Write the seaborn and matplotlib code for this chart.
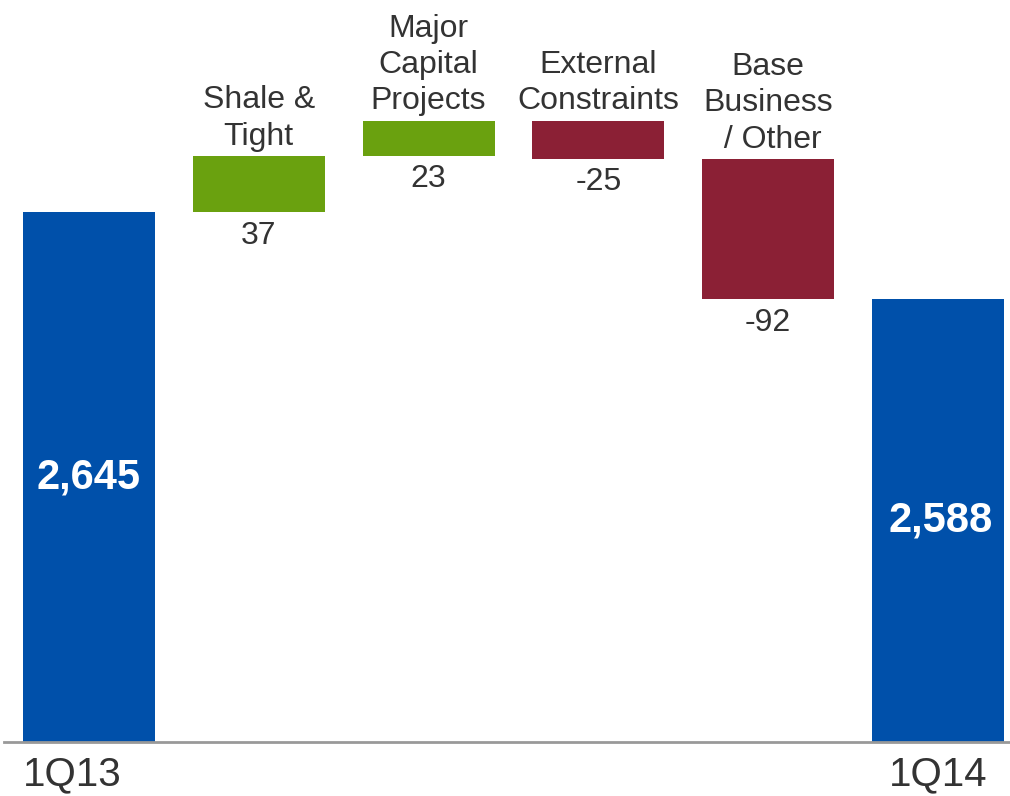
import matplotlib
matplotlib.use("Agg")
import matplotlib.pyplot as plt
import seaborn as sns
import pandas as pd
import numpy as np

# ---- data ----
steps = ["1Q13", "Shale & Tight", "Major Capital Projects", "External Constraints",
         "Base Business / Other", "1Q14"]
step_labels = ["1Q13", "Shale &\nTight", "Major\nCapital\nProjects", "External\nConstraints",
               "Base\nBusiness\n / Other", "1Q14"]
values = [2645, 37, 23, -25, -92, 2588]
is_total = [True, False, False, False, False, True]
value_labels = ["2,645", "37", "23", "-25", "-92", "2,588"]

# ---- waterfall geometry from data ----
bottoms, heights = [], []
running = 0
for v, tot in zip(values, is_total):
    if tot:
        bottoms.append(0)
        heights.append(v)
        running = v
    else:
        lo = min(running, running + v)
        bottoms.append(lo)
        heights.append(abs(v))
        running += v
tops = [b + h for b, h in zip(bottoms, heights)]

BLUE = "#0050AA"
GREEN = "#6AA10F"
RED = "#8B2035"
TEXT = "#333333"
colors = [BLUE if t else (GREEN if v > 0 else RED) for v, t in zip(values, is_total)]

sns.set_theme(style="white")
plt.rcParams["font.family"] = ["Liberation Sans", "DejaVu Sans"]

fig = plt.figure(figsize=(10.1, 7.96), dpi=100)
ax = fig.add_axes([4 / 1010, 54 / 796, 1006 / 1010, 742 / 796])

df = pd.DataFrame({"step": steps, "height": heights})
sns.barplot(data=df, x="step", y="height", order=steps, bottom=bottoms,
            width=0.777, errorbar=None, color=BLUE, saturation=1, ax=ax)
for p, c in zip(ax.patches, colors):
    p.set_facecolor(c)
    p.set_edgecolor("none")

ax.set_xlim(-0.5, 5.424)
ax.set_ylim(2298, 2784)
ax.set_xlabel("")
ax.set_ylabel("")
ax.set_xticks([])
ax.set_yticks([])
for s in ["top", "left", "right"]:
    ax.spines[s].set_visible(False)
ax.spines["bottom"].set_color("#999999")
ax.spines["bottom"].set_linewidth(2)

w = 0.777
for i, (lab, vl, tot) in enumerate(zip(step_labels, value_labels, is_total)):
    if tot:
        mid = (max(bottoms[i], 2298) + tops[i]) / 2
        ax.annotate(vl, xy=(i, mid), xytext=(2 if i == 5 else 0, 0),
                    textcoords="offset points", ha="center", va="center",
                    color="white", fontsize=30, fontweight="bold")
        if i == 0:
            ax.annotate(lab, xy=(i - w / 2, 0), xycoords=("data", "axes fraction"),
                        xytext=(0, -31.5), textcoords="offset points",
                        ha="left", va="baseline", fontsize=29, color=TEXT)
        else:
            ax.annotate(lab, xy=(i, 0), xycoords=("data", "axes fraction"),
                        xytext=(0, -31.5), textcoords="offset points",
                        ha="center", va="baseline", fontsize=29, color=TEXT)
    else:
        ax.annotate(lab, xy=(i, tops[i]), xytext=(0, 3), textcoords="offset points",
                    ha="center", va="bottom", fontsize=23, color=TEXT,
                    linespacing=1.28, multialignment="center")
        ax.annotate(vl, xy=(i, bottoms[i]), xytext=(0, -6), textcoords="offset points",
                    ha="center", va="top", fontsize=23, color=TEXT)

fig.savefig("out.png", dpi=100, facecolor="white")
